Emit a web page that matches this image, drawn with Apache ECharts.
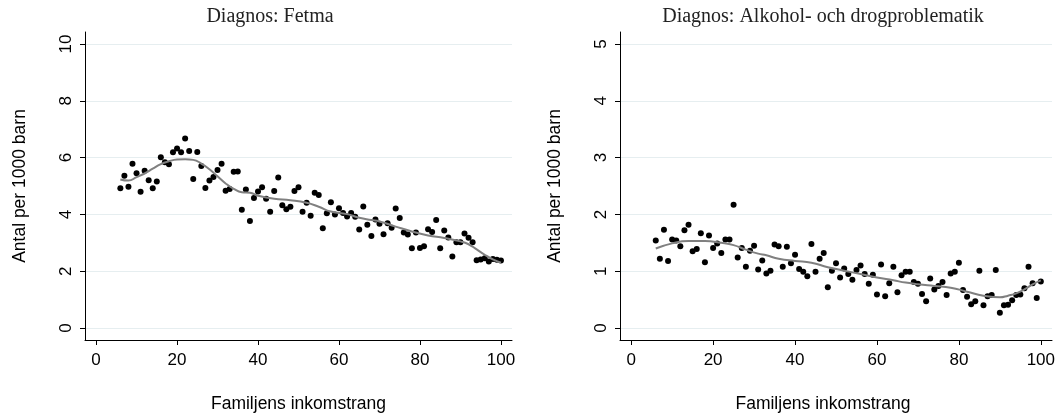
<!DOCTYPE html>
<html>
<head>
<meta charset="utf-8">
<script src="https://cdn.jsdelivr.net/npm/echarts@6/dist/echarts.min.js"></script>
<style>
  html, body { margin: 0; padding: 0; background: #fff; }
  #chart { width: 1058px; height: 418px; }
</style>
</head>
<body>
<div id="chart"></div>
<script>
// 收入百分位从 6 开始，每个点 +1
const firstRank = 6;

// 左图：Fetma（每1000名儿童）
const fetmaRate = [
  4.92, 5.36, 4.97, 5.78, 5.45, 4.80, 5.54, 5.20, 4.92, 5.16,
  6.01, 5.84, 5.77, 6.19, 6.32, 6.19, 6.67, 6.23, 5.25, 6.20,
  5.70, 4.93, 5.19, 5.32, 5.56, 5.78, 4.83, 4.89, 5.50, 5.51,
  4.16, 4.88,
  3.77, 4.58, 4.81, 4.96, 4.55, 4.09, 4.82, 5.30, 4.32, 4.18,
  4.27, 4.82, 4.96, 4.09, 4.41, 3.95, 4.76, 4.68, 3.51, 4.04,
  4.43, 4.00, 4.22, 4.05, 3.93, 4.05, 3.92, 3.47, 4.28, 3.64,
  3.24, 3.82,
  3.67, 3.30, 3.69, 3.53, 4.21, 3.87, 3.36, 3.29, 2.81, 3.36,
  2.82, 2.88, 3.48, 3.38, 3.80, 2.81, 3.43, 3.19, 2.52, 3.02,
  3.02, 3.33, 3.18, 3.02, 2.39, 2.41, 2.46, 2.34, 2.43, 2.40,
  2.38
];
// 右图：Alkohol- och drogproblematik
const alkoholRate = [
  1.54, 1.22, 1.73, 1.18, 1.56, 1.54, 1.44, 1.72, 1.82, 1.35,
  1.39, 1.67, 1.16, 1.63, 1.41, 1.49, 1.32, 1.56, 1.56, 2.17,
  1.24, 1.41, 1.08, 1.36, 1.45, 1.03, 1.19,
  0.96, 1.01, 1.47, 1.44, 1.08, 1.43, 1.14, 1.29, 1.04, 0.99,
  0.91, 1.48, 0.99, 1.22, 1.32, 0.72, 1.01, 1.14, 0.89, 1.05,
  0.95, 0.85, 1.02, 1.10, 0.95, 0.78, 0.94, 0.59, 1.12, 0.56,
  0.79, 1.08, 0.63, 0.93, 0.99,
  0.99, 0.81, 0.78, 0.60, 0.47, 0.87, 0.68, 0.74, 0.81, 0.58,
  0.96, 0.99, 1.15, 0.67, 0.55, 0.42, 0.47, 1.01, 0.40, 0.56,
  0.58, 1.02, 0.27, 0.40, 0.41, 0.49, 0.58, 0.59, 0.70, 1.08,
  0.79, 0.53, 0.82
];

// 平滑曲线
const fetmaFitX = [6, 8, 10, 12, 14, 16, 18, 20, 22, 24, 26, 28, 30, 32, 34, 36, 38, 40, 44, 48,
  52, 55, 58, 62, 65, 68, 70, 74, 78, 82, 86, 90, 92, 94, 96, 98, 100];
const fetmaFitY = [5.23, 5.19, 5.31, 5.44, 5.61, 5.77, 5.87, 5.93, 5.94, 5.92, 5.79, 5.59, 5.34,
  5.09, 4.90, 4.78, 4.76, 4.66, 4.55, 4.50, 4.41, 4.27, 4.10, 4.01, 3.88, 3.80, 3.75, 3.57, 3.40,
  3.26, 3.17, 3.05, 2.95, 2.77, 2.58, 2.42, 2.30];
const alkoholFitX = [6, 10, 14, 18, 22, 25, 28, 31, 33, 36, 40, 44, 48, 52, 56, 60, 64, 67, 70,
  74, 78, 82, 86, 90, 92, 94, 96, 98, 100];
const alkoholFitY = [1.40, 1.49, 1.53, 1.53, 1.50, 1.46, 1.38, 1.31, 1.28, 1.22, 1.18, 1.15, 1.07,
  1.01, 0.95, 0.89, 0.84, 0.80, 0.77, 0.74, 0.71, 0.64, 0.57, 0.54, 0.57, 0.61, 0.68, 0.77, 0.84];

const xTicks = [0, 20, 40, 60, 80, 100];
const fetmaTicks = [0, 2, 4, 6, 8, 10];
const alkoholTicks = [0, 1, 2, 3, 4, 5];

const sansFont = "Liberation Sans";
const serifFont = "Liberation Serif";

function toPoints(values) {
  return values.map((v, i) => [firstRank + i, v]);
}
function toLine(xs, ys) {
  return xs.map((x, i) => [x, ys[i]]);
}

function makeXAxis(gridIndex, namePad) {
  return {
    type: "value",
    gridIndex: gridIndex,
    min: -2.73,
    max: 102.73,
    name: "Familjens inkomstrang",
    nameLocation: "middle",
    nameGap: 55,
    nameTextStyle: { fontFamily: sansFont, fontSize: 17.5, color: "#000", padding: namePad },
    axisLine: { show: true, onZero: false, lineStyle: { color: "#000", width: 1 } },
    axisTick: { show: true, length: 5, customValues: xTicks, lineStyle: { color: "#000" } },
    axisLabel: { customValues: xTicks, fontFamily: sansFont, fontSize: 17, color: "#000", margin: 12 },
    splitLine: { show: false },
  };
}

function makeYAxis(gridIndex, top, ticks) {
  const pad = top * 0.0421;
  return {
    type: "value",
    gridIndex: gridIndex,
    min: -pad,
    max: top + pad,
    name: "Antal per 1000 barn",
    nameLocation: "middle",
    nameGap: 56,
    nameTextStyle: { fontFamily: sansFont, fontSize: 17.5, color: "#000" },
    axisLine: { show: true, onZero: false, lineStyle: { color: "#000", width: 1 } },
    axisTick: { show: true, length: 5, customValues: ticks, lineStyle: { color: "#000" } },
    axisLabel: { customValues: ticks, rotate: 90, fontFamily: sansFont, fontSize: 17, color: "#000", margin: 10 },
    splitLine: { show: true, lineStyle: { color: "#e6eef0", width: 1 } },
  };
}

const chart = echarts.init(document.getElementById("chart"), null, { renderer: "canvas" });
chart.setOption({
  backgroundColor: "#fff",
  animation: false,
  title: [
    {
      text: "Diagnos: Fetma",
      left: 265,
      top: 2,
      textAlign: "center",
      textStyle: { fontFamily: serifFont, fontSize: 20, fontWeight: "normal", color: "#222" },
    },
    {
      text: "Diagnos: Alkohol- och drogproblematik",
      left: 818,
      top: 2,
      textAlign: "center",
      textStyle: { fontFamily: serifFont, fontSize: 20, fontWeight: "normal", color: "#222" },
    },
  ],
  grid: [
    { left: 85, top: 32, width: 427, height: 309 },
    { left: 620, top: 32, width: 433, height: 309 },
  ],
  xAxis: [makeXAxis(0, 0), makeXAxis(1, [0, 26, 0, 0])],
  yAxis: [makeYAxis(0, 10, fetmaTicks), makeYAxis(1, 5, alkoholTicks)],
  series: [
    {
      name: "Fetma",
      type: "scatter",
      xAxisIndex: 0,
      yAxisIndex: 0,
      symbolSize: 6,
      itemStyle: { color: "#000", opacity: 1 },
      data: toPoints(fetmaRate),
    },
    {
      name: "Fetma fit",
      type: "line",
      xAxisIndex: 0,
      yAxisIndex: 0,
      smooth: true,
      showSymbol: false,
      lineStyle: { color: "#808080", width: 2 },
      data: toLine(fetmaFitX, fetmaFitY),
    },
    {
      name: "Alkohol",
      type: "scatter",
      xAxisIndex: 1,
      yAxisIndex: 1,
      symbolSize: 6,
      itemStyle: { color: "#000", opacity: 1 },
      data: toPoints(alkoholRate),
    },
    {
      name: "Alkohol fit",
      type: "line",
      xAxisIndex: 1,
      yAxisIndex: 1,
      smooth: true,
      showSymbol: false,
      lineStyle: { color: "#808080", width: 2 },
      data: toLine(alkoholFitX, alkoholFitY),
    },
  ],
});
</script>
</body>
</html>
